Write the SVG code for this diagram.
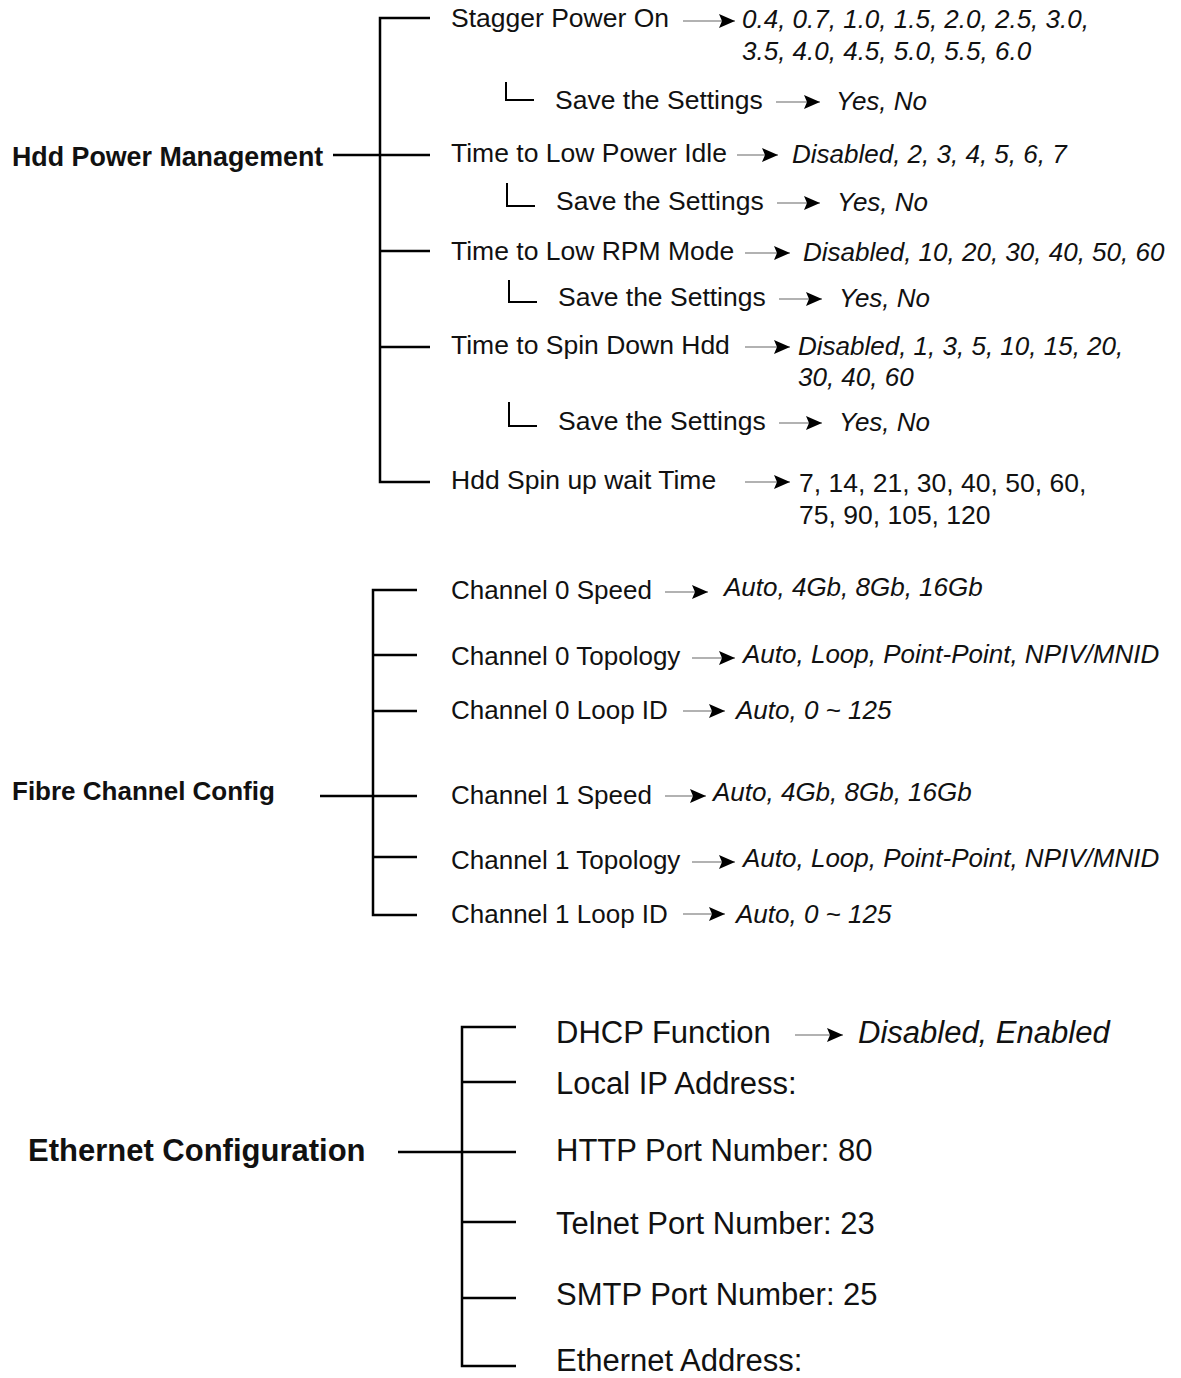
<svg xmlns="http://www.w3.org/2000/svg" width="1181" height="1378" viewBox="0 0 1181 1378">
<style>
text{font-family:"Liberation Sans",Arial,sans-serif;fill:#111}
.t{font-size:26.5px}
.f{font-size:26px}
.v{font-size:26px;font-style:italic}
.n{font-size:26.5px}
.b{font-size:26.8px;font-weight:bold}
.fb{font-size:26px;font-weight:bold}
.eb{font-size:31px;font-weight:bold}
.e{font-size:31px}
.ev{font-size:31px;font-style:italic}
.tree{fill:none;stroke:#000;stroke-width:2.5}
.sub{fill:none;stroke:#000;stroke-width:2}
.arr{stroke:#999;stroke-width:1.5;marker-end:url(#ah)}
</style>
<defs>
<marker id="ah" markerUnits="userSpaceOnUse" viewBox="-18 -8 19 16" refX="0" refY="0" markerWidth="19" markerHeight="16" orient="auto">
<path d="M0,0 L-16,-7 L-13,0 L-16,7 Z" fill="#000"/>
</marker>
</defs>
<rect width="1181" height="1378" fill="#fff"/>
<g id="connectors">
<path class="tree" d="M430,18 H380 V482 H430 M333,155 H430 M380,251 H430 M380,347 H430"/>
<path class="sub" d="M506,82 V100 H534 M507,183 V206 H535 M509,280 V302 H537 M509,402 V426 H537"/>
<line class="arr" x1="683" y1="21" x2="735" y2="21"/>
<line class="arr" x1="776" y1="102" x2="820" y2="102"/>
<line class="arr" x1="737" y1="155" x2="778" y2="155"/>
<line class="arr" x1="777" y1="203" x2="820" y2="203"/>
<line class="arr" x1="745" y1="253" x2="790" y2="253"/>
<line class="arr" x1="779" y1="299" x2="822" y2="299"/>
<line class="arr" x1="745" y1="347" x2="790" y2="347"/>
<line class="arr" x1="779" y1="423" x2="822" y2="423"/>
<line class="arr" x1="745" y1="482" x2="790" y2="482"/>
<path class="tree" d="M417,590 H373 V915 H417 M320,796 H417 M373,655 H417 M373,711 H417 M373,857 H417"/>
<line class="arr" x1="665" y1="592" x2="708" y2="592"/>
<line class="arr" x1="692" y1="658" x2="735" y2="658"/>
<line class="arr" x1="683" y1="711" x2="725" y2="711"/>
<line class="arr" x1="665" y1="796" x2="706" y2="796"/>
<line class="arr" x1="692" y1="862" x2="735" y2="862"/>
<line class="arr" x1="683" y1="914" x2="725" y2="914"/>
<path class="tree" d="M516,1027 H462 V1366 H516 M398,1152 H516 M462,1082 H516 M462,1222 H516 M462,1298 H516"/>
<line class="arr" x1="795" y1="1035" x2="843" y2="1035"/>
</g>
<g id="hdd-power-management"><text class="b" x="12" y="166">Hdd Power Management</text></g>
<g id="stagger-power-on">
<text class="t" x="451" y="27">Stagger Power On</text>
<text class="v" x="742" y="28">0.4, 0.7, 1.0, 1.5, 2.0, 2.5, 3.0,</text>
<text class="v" x="742" y="60">3.5, 4.0, 4.5, 5.0, 5.5, 6.0</text>
</g>
<g id="save-1"><text class="t" x="555" y="109">Save the Settings</text><text class="v" x="836" y="110">Yes, No</text></g>
<g id="time-low-power-idle">
<text class="t" x="451" y="162">Time to Low Power Idle</text>
<text class="v" x="792" y="163">Disabled, 2, 3, 4, 5, 6, 7</text>
</g>
<g id="save-2"><text class="t" x="556" y="210">Save the Settings</text><text class="v" x="837" y="211">Yes, No</text></g>
<g id="time-low-rpm">
<text class="t" x="451" y="260">Time to Low RPM Mode</text>
<text class="v" x="803" y="261">Disabled, 10, 20, 30, 40, 50, 60</text>
</g>
<g id="save-3"><text class="t" x="558" y="306">Save the Settings</text><text class="v" x="839" y="307">Yes, No</text></g>
<g id="time-spin-down">
<text class="t" x="451" y="354">Time to Spin Down Hdd</text>
<text class="v" x="798" y="355">Disabled, 1, 3, 5, 10, 15, 20,</text>
<text class="v" x="798" y="386">30, 40, 60</text>
</g>
<g id="save-4"><text class="t" x="558" y="430">Save the Settings</text><text class="v" x="839" y="431">Yes, No</text></g>
<g id="hdd-spin-up">
<text class="t" x="451" y="489">Hdd Spin up wait Time</text>
<text class="n" x="799" y="492">7, 14, 21, 30, 40, 50, 60,</text>
<text class="n" x="799" y="524">75, 90, 105, 120</text>
</g>
<g id="fibre-channel-config"><text class="fb" x="12" y="800">Fibre Channel Config</text></g>
<g id="ch0-speed"><text class="f" x="451" y="599">Channel 0 Speed</text><text class="v" x="724" y="596">Auto, 4Gb, 8Gb, 16Gb</text></g>
<g id="ch0-topology"><text class="f" x="451" y="665">Channel 0 Topology</text><text class="v" x="743" y="663">Auto, Loop, Point-Point, NPIV/MNID</text></g>
<g id="ch0-loop"><text class="f" x="451" y="719">Channel 0 Loop ID</text><text class="v" x="736" y="719">Auto, 0 ~ 125</text></g>
<g id="ch1-speed"><text class="f" x="451" y="804">Channel 1 Speed</text><text class="v" x="713" y="801">Auto, 4Gb, 8Gb, 16Gb</text></g>
<g id="ch1-topology"><text class="f" x="451" y="869">Channel 1 Topology</text><text class="v" x="743" y="867">Auto, Loop, Point-Point, NPIV/MNID</text></g>
<g id="ch1-loop"><text class="f" x="451" y="923">Channel 1 Loop ID</text><text class="v" x="736" y="923">Auto, 0 ~ 125</text></g>
<g id="ethernet-configuration"><text class="eb" x="28" y="1161">Ethernet Configuration</text></g>
<g id="dhcp"><text class="e" x="556" y="1043">DHCP Function</text><text class="ev" x="858" y="1043">Disabled, Enabled</text></g>
<g id="local-ip"><text class="e" x="556" y="1094">Local IP Address:</text></g>
<g id="http-port"><text class="e" x="556" y="1161">HTTP Port Number: 80</text></g>
<g id="telnet-port"><text class="e" x="556" y="1234">Telnet Port Number: 23</text></g>
<g id="smtp-port"><text class="e" x="556" y="1305">SMTP Port Number: 25</text></g>
<g id="ethernet-address"><text class="e" x="556" y="1371">Ethernet Address:</text></g>
</svg>
